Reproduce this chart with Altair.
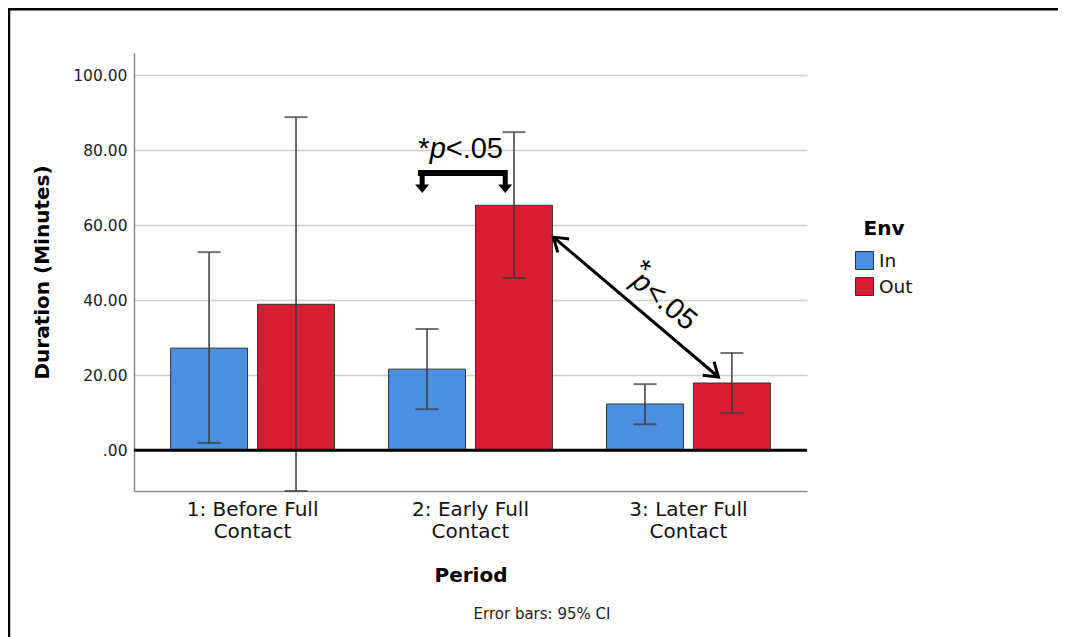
import altair as alt
import pandas as pd

# ---------------- data ----------------
periods = ["1: Before Full Contact", "2: Early Full Contact", "3: Later Full Contact"]
envs = ["In", "Out"]
mean_in = [27.2, 21.6, 12.3]
mean_out = [38.9, 65.3, 17.9]
ci_low_in = [1.9, 10.9, 6.9]
ci_high_in = [52.8, 32.3, 17.6]
ci_low_out = [-10.9, 45.9, 9.9]
ci_high_out = [88.8, 84.8, 25.9]
y_ticks = [0, 20, 40, 60, 80, 100]
env_colors = ["#4a8fe0", "#d61d32"]

# annotation positions in "period units" (1, 2, 3 = group centres) and data units
bracket_x = [1.757, 2.166]
bracket_stub_x = [1.776, 2.157]
bracket_y = [73.9, 70.7, 69.7]          # bar level, stub bottom, arrow-head centre
diag_x = [2.378, 3.135]
diag_y = [56.8, 19.5]
diag_angle = 40.3
label_h = {"x": 1.758, "y": 77.9}
label_d = {"x": 2.897, "y": 39.3}
sig_text = ["*", "p", "<.05"]

rows = []
for i, p in enumerate(periods):
    rows.append({"Period": p, "Env": "In", "mean": mean_in[i], "lo": ci_low_in[i], "hi": ci_high_in[i]})
    rows.append({"Period": p, "Env": "Out", "mean": mean_out[i], "lo": ci_low_out[i], "hi": ci_high_out[i]})
df = pd.DataFrame(rows)

Y_DOMAIN = [-10.9, 105.9]
FONT = "DejaVu Sans"
AFONT = "Liberation Sans"

x_axis = alt.Axis(
    title="Period", labelAngle=0, ticks=False,
    labelExpr="split(replace(datum.label, ' Contact', '|Contact'), '|')",
    labelFont=FONT, labelFontSize=20, labelColor="#111", labelPadding=8, labelLineHeight=22,
    titleFont=FONT, titleFontSize=20, titleFontWeight="bold", titleColor="#000", titlePadding=24,
    domainColor="#8a8a8a", domainWidth=1.5, grid=False,
)
y_axis = alt.Axis(
    title="Duration (Minutes)", values=y_ticks, ticks=False,
    labelExpr="datum.value == 0 ? '.00' : format(datum.value, '.2f')",
    labelFont=FONT, labelFontSize=15.5, labelColor="#222", labelPadding=7,
    titleFont=FONT, titleFontSize=20, titleFontWeight="bold", titleColor="#000", titlePadding=20,
    domainColor="#8a8a8a", domainWidth=1.5, gridColor="#d0d0d0", gridWidth=1.5,
)
x_scale = alt.Scale(paddingInner=0.248, paddingOuter=0.168)
xo_scale = alt.Scale(paddingInner=0.115, paddingOuter=0)
y_scale = alt.Scale(domain=Y_DOMAIN, nice=False, zero=False)

def xe():
    return alt.X("Period:N", sort=periods, scale=x_scale, axis=x_axis)

def xoe():
    return alt.XOffset("Env:N", sort=envs, scale=xo_scale)

def ye(field):
    return alt.Y(field, type="quantitative", scale=y_scale, axis=y_axis)

bars = alt.Chart(df).mark_bar(stroke="#333333", strokeWidth=1).encode(
    x=xe(), xOffset=xoe(), y=ye("mean"), y2=alt.Y2(datum=0),
    color=alt.Color("Env:N", sort=envs, scale=alt.Scale(domain=envs, range=env_colors),
                    legend=alt.Legend(title="Env")),
)
err = alt.Chart(df).mark_rule(color="#3a3a3a", strokeWidth=1.5).encode(
    x=xe(), xOffset=xoe(), y=ye("lo"), y2="hi:Q",
)
cap_lo = alt.Chart(df).mark_tick(color="#3a3a3a", thickness=2, size=23).encode(
    x=xe(), xOffset=xoe(), y=ye("lo"),
)
cap_hi = alt.Chart(df).mark_tick(color="#3a3a3a", thickness=2, size=23).encode(
    x=xe(), xOffset=xoe(), y=ye("hi"),
)
zero = alt.Chart(pd.DataFrame({"z": [0]})).mark_rule(color="#000", strokeWidth=3).encode(
    y=ye("z")
)

data_layer = alt.layer(bars, err, cap_lo, cap_hi, zero)

# ---------------- annotations ----------------
ax_scale = alt.Scale(domain=[0.4541, 3.5413], nice=False, zero=False)
ux = lambda f: alt.X(f, type="quantitative", scale=ax_scale, axis=None)
uy = lambda f: alt.Y(f, type="quantitative", scale=y_scale, axis=None)

br_df = pd.DataFrame({"x": [bracket_x[0]], "x2": [bracket_x[1]], "y": [bracket_y[0]]})
bracket_bar = alt.Chart(br_df).mark_rule(color="#000", strokeWidth=6, strokeCap="butt").encode(
    x=ux("x"), x2="x2", y=uy("y"))
stub_df = pd.DataFrame({"x": bracket_stub_x, "y": [bracket_y[0] + 0.8] * 2, "y2": [bracket_y[1]] * 2})
stubs = alt.Chart(stub_df).mark_rule(color="#000", strokeWidth=5, strokeCap="butt").encode(
    x=ux("x"), y=uy("y"), y2="y2")
head_df = pd.DataFrame({"x": bracket_stub_x, "y": [bracket_y[2]] * 2})
heads = alt.Chart(head_df).mark_point(
    shape="M-1,-0.6L1,-0.6L0,0.6Z", filled=True, color="#000", size=196, opacity=1
).encode(x=ux("x"), y=uy("y"))

diag_df = pd.DataFrame({"x": [diag_x[0]], "x2": [diag_x[1]], "y": [diag_y[0]], "y2": [diag_y[1]]})
diag = alt.Chart(diag_df).mark_rule(color="#000", strokeWidth=3).encode(
    x=ux("x"), x2="x2", y=uy("y"), y2="y2")
dh_df = pd.DataFrame({"x": diag_x, "y": diag_y, "a": [diag_angle + 180, diag_angle]})
diag_heads = alt.Chart(dh_df).mark_point(
    shape="M-1.2,-0.8L0,0L-1.2,0.8", filled=False, color="#000", strokeWidth=3, size=484, opacity=1
).encode(x=ux("x"), y=uy("y"), angle=alt.Angle("a:Q", scale=None))

lh = pd.DataFrame([label_h])
h_star = alt.Chart(lh).mark_text(text=sig_text[0], font=AFONT, fontSize=29, align="left",
                                 baseline="alphabetic", color="#000").encode(x=ux("x"), y=uy("y"))
h_p = alt.Chart(lh).mark_text(text=sig_text[1], font=AFONT, fontSize=29, fontStyle="italic", align="left",
                              baseline="alphabetic", dx=11.5, color="#000").encode(x=ux("x"), y=uy("y"))
h_rest = alt.Chart(lh).mark_text(text=sig_text[2], font=AFONT, fontSize=29, align="left",
                                 baseline="alphabetic", dx=27.5, color="#000").encode(x=ux("x"), y=uy("y"))

ld = pd.DataFrame([label_d])
d_star = alt.Chart(ld).mark_text(text=sig_text[0], font=AFONT, fontSize=29, align="left", angle=40,
                                 baseline="middle", dx=-46, dy=-10, color="#000").encode(x=ux("x"), y=uy("y"))
d_p = alt.Chart(ld).mark_text(text=sig_text[1], font=AFONT, fontSize=29, fontStyle="italic", align="left",
                              angle=40, baseline="middle", dx=-40, color="#000").encode(x=ux("x"), y=uy("y"))
d_rest = alt.Chart(ld).mark_text(text=sig_text[2], font=AFONT, fontSize=29, align="left", angle=40,
                                 baseline="middle", dx=-23, color="#000").encode(x=ux("x"), y=uy("y"))

caption = alt.Chart(pd.DataFrame({"t": ["Error bars: 95% CI"]})).mark_text(
    font=FONT, fontSize=15, color="#222", align="center", baseline="middle"
).encode(text="t:N", x=alt.value(408), y=alt.value(561))

frame_top = alt.Chart(pd.DataFrame({"k": [0]})).mark_rule(color="#000", strokeWidth=3).encode(
    x=alt.value(-126), x2=alt.value(924), y=alt.value(-44))
frame_left = alt.Chart(pd.DataFrame({"k": [0]})).mark_rule(color="#000", strokeWidth=2.5).encode(
    x=alt.value(-125), y=alt.value(-45), y2=alt.value(584))

anno_layer = alt.layer(bracket_bar, stubs, heads, diag, diag_heads,
                       h_star, h_p, h_rest, d_star, d_p, d_rest, caption, frame_top, frame_left)

chart = alt.layer(data_layer, anno_layer).resolve_scale(x="independent").resolve_axis(
    x="independent", y="independent"
).properties(
    width=673, height=438,
    autosize=alt.AutoSizeParams(type="none"),
    padding={"left": 126, "top": 45, "right": 251, "bottom": 146},
).configure_view(stroke=None).configure_legend(
    orient="none", legendX=721, legendY=166, padding=0,
    titleFont=FONT, titleFontSize=20, titleFontWeight="bold", titleColor="#000", titlePadding=12,
    titleAnchor="middle",
    labelFont=FONT, labelFontSize=18.5, labelColor="#111", labelOffset=5,
    symbolType="square", symbolSize=324, symbolStrokeColor="#333", symbolStrokeWidth=1,
    symbolOpacity=1, rowPadding=3,
)

chart.save("out.html", embed_options={"renderer": "svg", "actions": False})
